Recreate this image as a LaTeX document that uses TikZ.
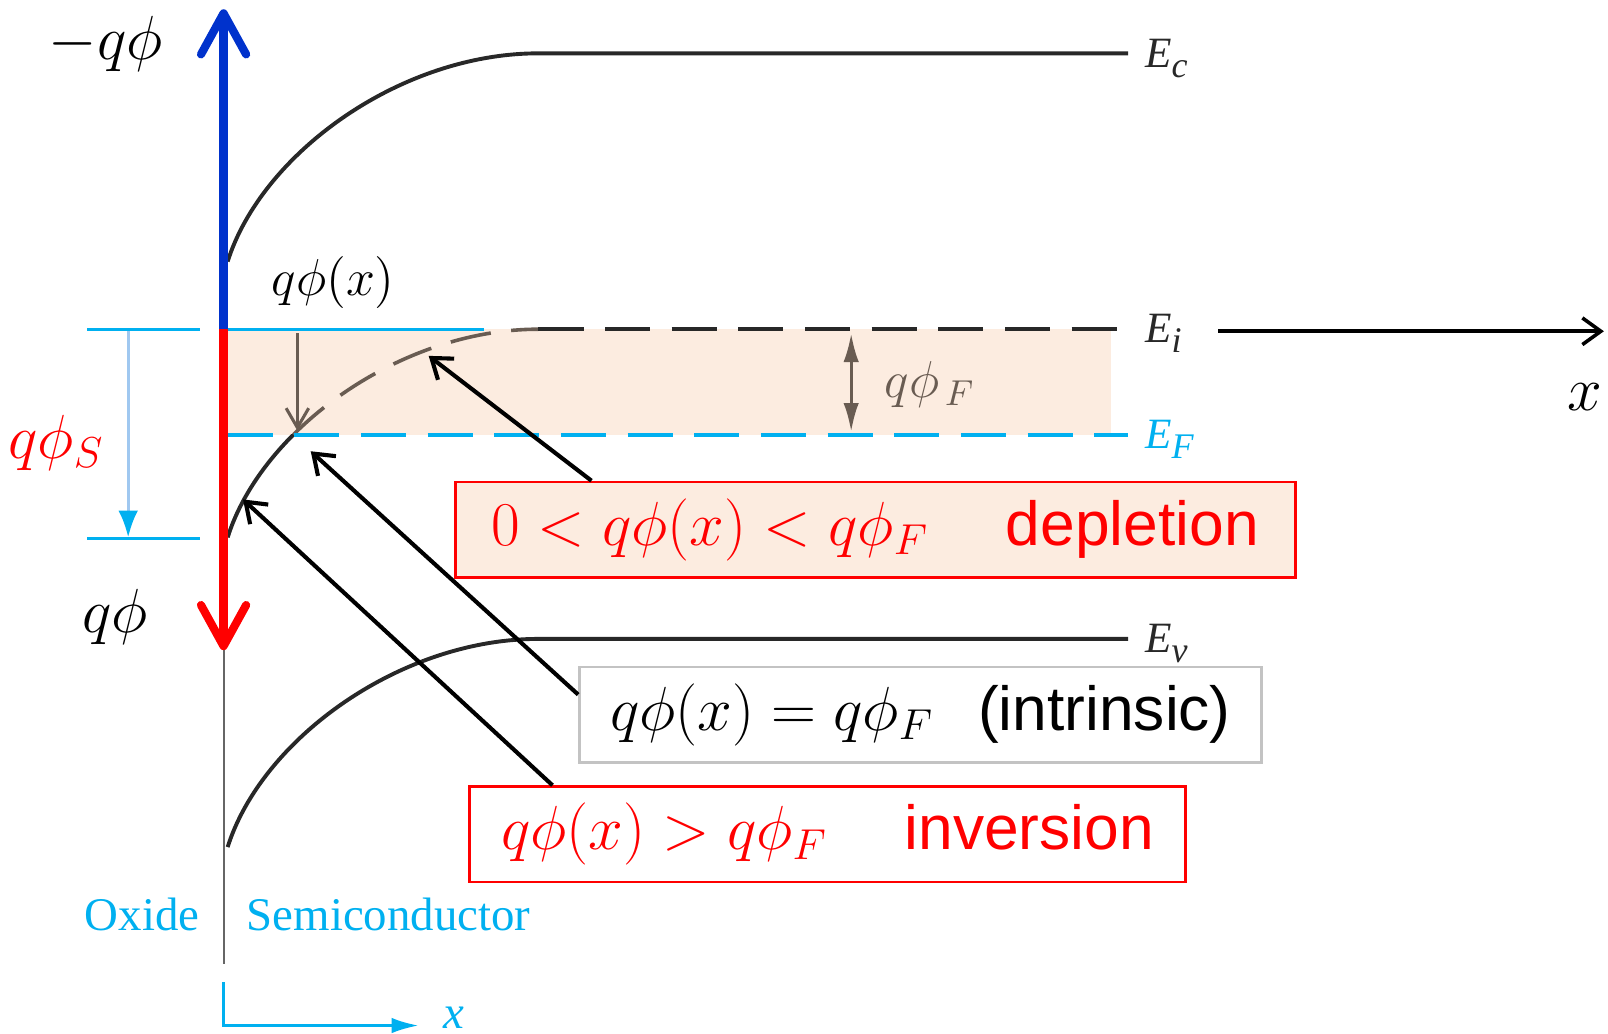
\documentclass[tikz,border=0pt]{standalone}
\usepackage{fontspec}
\newfontfamily\arialfont{Liberation Sans}
\newfontfamily\timesfont{Liberation Serif}
\usetikzlibrary{arrows.meta,positioning,calc}
\definecolor{peach}{RGB}{252,236,224}
\definecolor{skyline}{RGB}{0,176,240}
\definecolor{paleblue}{RGB}{160,200,240}
\definecolor{taupe}{RGB}{105,92,82}
\definecolor{axisblue}{RGB}{0,50,204}
\definecolor{curvegray}{RGB}{40,40,40}
\definecolor{boxgray}{RGB}{195,195,195}
\tikzset{
  level/.style={draw=curvegray, line width=0.38mm},
  bigarrow/.style={-{Straight Barb[length=4mm, width=4.4mm, round]}, line width=0.8mm},
  pointer/.style={-{Straight Barb[length=1.8mm, width=2.6mm]}, line width=0.4mm},
  tickline/.style={draw=skyline, line width=0.3mm},
  fermi/.style={draw=skyline, line width=0.45mm, dash pattern=on 4.4mm off 2.1mm},
  midgap/.style={draw=curvegray, line width=0.38mm, dash pattern=on 4.4mm off 2.1mm},
  bentgap/.style={draw=taupe, line width=0.35mm, dash pattern=on 4mm off 2mm},
  bigtxt/.style={font=\LARGE, anchor=base, inner sep=0pt},
  lvltxt/.style={font=\timesfont\large, anchor=base west, inner sep=0pt},
  regtxt/.style={font=\timesfont\fontsize{13}{15}\selectfont, text=skyline, anchor=base, inner sep=0pt},
  casebox/.style={line width=0.25mm, minimum width=#1, minimum height=9.3mm, inner sep=0pt, font=\LARGE},
}
\newcommand{\bandlabel}[4]{\node[lvltxt, text=#4] (#1) at #2 {\itshape E\raisebox{-0.5ex}{\normalsize #3}};}

\begin{document}
\begin{tikzpicture}[x=0.1mm, y=-0.1mm]
  \useasboundingbox (0,0) rectangle (1568,1008);

  %% ---- shaded gap between E_i and E_F ----
  \fill[peach] (222,321) rectangle (1083,424);

  %% ---- q phi_S marks ----
  \coordinate (sT) at (125,323);
  \coordinate (sB) at (125,524);
  \draw[tickline] (85,321) -- (195,321);
  \draw[tickline] (85,525) -- (195,525);
  \draw[tickline] (222,321) -- (472,321);
  \draw[paleblue, line width=0.3mm, -{Latex[length=2.6mm, width=1.9mm, color=skyline]}] (sT) -- (sB);

  %% ---- bands ----
  \draw[level] (222,255) .. controls (255,150) and (390,52) .. (525,52) -- (1100,52);
  \draw[level] (222,826) .. controls (255,721) and (390,623) .. (525,623) -- (1100,623);
  \begin{scope}
    \clip (200,424) rectangle (600,560);
    \draw[level] (222,524) .. controls (255,419) and (390,321) .. (525,321);
  \end{scope}
  \begin{scope}
    \clip (200,300) rectangle (600,424);
    \draw[bentgap] (222,524) .. controls (255,419) and (390,321) .. (525,321);
  \end{scope}
  \draw[midgap] (525,321) -- (1100,321);
  \draw[fermi] (222,424) -- (1100,424);

  \bandlabel{Ec}{(1116,66)}{c}{curvegray}
  \bandlabel{Ei}{(1116,334)}{i}{curvegray}
  \bandlabel{EF}{(1116,437)}{F}{skyline}
  \bandlabel{Ev}{(1116,636)}{v}{curvegray}

  %% ---- potential axis ----
  \coordinate (O) at (218,321);
  \coordinate (Otip) at (218,9);
  \coordinate (Stip) at (218,634);
  \coordinate (Oend) at (218,940);
  \draw[gray!80!black, line width=0.2mm] (Stip) -- (Oend);
  \draw[bigarrow, axisblue] (O) -- (Otip);
  \draw[bigarrow, red] (O) -- (Stip);

  \node[bigtxt] (mq) at (103,58) {$-q\phi$};
  \node[bigtxt] (q) at (112,617) {$q\phi$};
  \node[bigtxt, text=red] (qs) at (55,447) {$q\phi_S$};
  \node[bigtxt, font=\Large] (qx) at (325,288) {$q\phi(x)$};

  %% ---- x axis ----
  \coordinate (xa) at (1188,323);
  \coordinate (xb) at (1564,323);
  \draw[pointer, line width=0.35mm] (xa) -- (xb);
  \node[bigtxt] (xl) at (1545,400) {$x$};

  %% ---- q phi(x) and q phi_F ----
  \coordinate (pa) at (290,325);
  \coordinate (pb) at (290,420);
  \draw[taupe, line width=0.3mm, -{Straight Barb[length=1.9mm, width=2.2mm]}] (pa) -- (pb);
  \coordinate (fa) at (830,325);
  \coordinate (fb) at (830,421);
  \draw[taupe, line width=0.3mm, {Latex[length=2.8mm, width=1.5mm]}-{Latex[length=2.8mm, width=1.5mm]}] (fa) -- (fb);
  \node[font=\Large, text=taupe, anchor=base west, inner sep=0pt] (qf) at (862,388) {$q\phi_{\,F}$};

  %% ---- oxide / semiconductor ----
  \node[regtxt, anchor=base east] (ox) at (195,907) {Oxide};
  \node[regtxt, anchor=base west] (sc) at (240,907) {Semiconductor};
  \coordinate (da) at (218,958);
  \coordinate (db) at (218,1000);
  \coordinate (dc) at (408,1000);
  \draw[skyline, line width=0.25mm, -{Latex[length=2.6mm, width=1.5mm]}] (da) -- (db) -- (dc);
  \node[regtxt, anchor=base west] (xs) at (432,1003) {\itshape x};

  %% ---- case boxes ----
  \node[casebox=81.9mm, draw=red, fill=peach, text=red] (dep) at (853.5,516.5)
    {$0<q\phi(x)<q\phi_F$\hspace{7.5mm}{\arialfont depletion}};
  \node[casebox=66.5mm, draw=boxgray, fill=white] (intr) at (897.5,697)
    {$q\phi(x)=q\phi_F$\hspace{4.3mm}{\arialfont (intrinsic)}};
  \node[casebox=69.8mm, draw=red, fill=white, text=red] (inv) at (807,813.5)
    {$q\phi(x)>q\phi_F$\hspace{7.5mm}{\arialfont inversion}};

  %% ---- pointers to the bent E_i ----
  \coordinate (pdep) at (418,347);
  \coordinate (pint) at (303,440);
  \coordinate (pinv) at (237,487);
  \draw[pointer] ($(dep.north west)+(134,0)$) -- (pdep);
  \draw[pointer] ($(intr.north west)+(0,28)$) -- (pint);
  \draw[pointer] ($(inv.north west)+(82,0)$) -- (pinv);

\end{tikzpicture}
\end{document}
